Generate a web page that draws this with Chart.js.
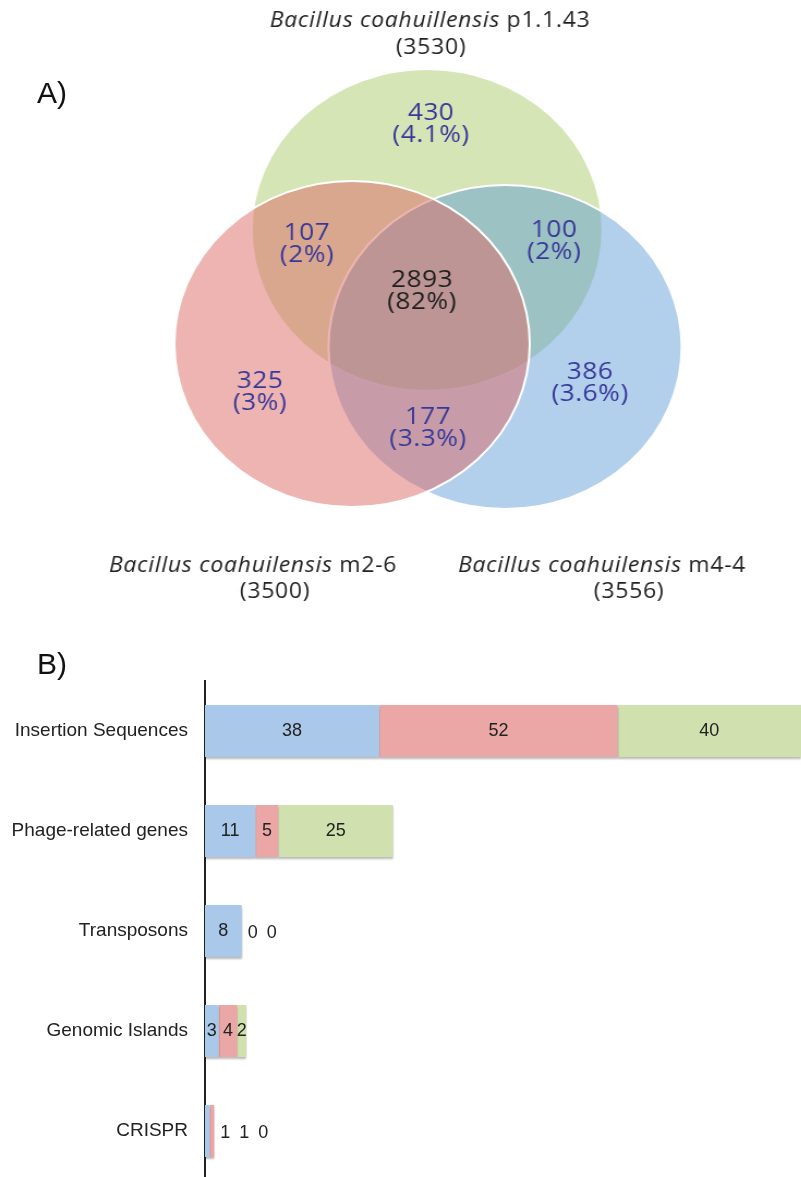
<!DOCTYPE html>
<html>
<head>
<meta charset="utf-8">
<script src="https://cdn.jsdelivr.net/npm/chart.js@4.4.1/dist/chart.umd.min.js"></script>
<style>
html,body{margin:0;padding:0;background:#fff;width:801px;height:1177px;overflow:hidden}
/* the figure is a little wider than tall, so the venn canvas is stretched sideways */
#vennBox{position:absolute;left:0;top:0;width:735px;height:620px;transform:scaleX(1.09);transform-origin:0 0}
#barBox{position:absolute;left:0;top:640px;width:801px;height:541px}
.panel{position:absolute;left:37px;font:30px "Liberation Sans",Arial,sans-serif;color:#111}
</style>
</head>
<body>
<div id="vennBox"><canvas id="vennChart"></canvas></div>
<div id="barBox"><canvas id="barChart"></canvas></div>
<div class="panel" style="top:76px">A)</div>
<div class="panel" style="top:647px">B)</div>
<script>
// --- Venn data (A) ---
const strains = ['p1.1.43','m2-6','m4-4']
const strainNames = ['Bacillus coahuillensis','Bacillus coahuilensis','Bacillus coahuilensis']
const strainTotals = [3530,3500,3556]
// p only, p&m2, p&m4, all, m2 only, m2&m4, m4 only
const regionCounts = [430,107,100,2893,325,177,386]
const regionPercents = ['4.1%','2%','2%','82%','3%','3.3%','3.6%']

// --- Bar data (B) ---
const categories = ['Insertion Sequences','Phage-related genes','Transposons','Genomic Islands','CRISPR']
const m44 = [38,11,8,3,1]
const m26 = [52,5,0,4,1]
const p1143 = [40,25,0,2,0]

// venn layout (scale units), drawn green, blue, red
const circles = [{x:427,y:230,r:161},{x:505,y:347,r:162},{x:352,y:344,r:163}]
const circleColors = ['rgba(173,203,107,0.5)','rgba(91,155,215,0.47)','rgba(221,105,101,0.5)']
const regionSpots = [[431,124],[307,244],[554,241],[422,291],[260,392],[428,428],[590,383]]
const strainSpots = [[430,21,431,48],[253,566,275,592],[602,566,629,592]]

const vennText = {
  id:'vennText',
  afterDatasetsDraw(chart){
    const {ctx, scales:{x,y}} = chart
    ctx.save()
    ctx.textAlign = 'center'
    ctx.textBaseline = 'middle'
    ctx.font = '24px "Open Sans"'
    ctx.letterSpacing = '0.5px'
    regionCounts.forEach((n,i)=>{
      const px = x.getPixelForValue(regionSpots[i][0])
      const py = y.getPixelForValue(regionSpots[i][1])
      ctx.fillStyle = i===3 ? '#1e1e1e' : '#38389a'
      ctx.fillText(n, px, py-11)
      ctx.fillText('('+regionPercents[i]+')', px, py+11)
    })
    ctx.fillStyle = '#222'
    ctx.letterSpacing = '0.7px'
    strains.forEach((s,i)=>{
      const sp = strainSpots[i]
      ctx.font = 'italic 21px "Open Sans"'
      const a = strainNames[i]+' '
      const wa = ctx.measureText(a).width
      ctx.font = '21px "Open Sans"'
      const wb = ctx.measureText(s).width
      const left = x.getPixelForValue(sp[0]) - (wa+wb)/2
      const py = y.getPixelForValue(sp[1])
      ctx.textAlign = 'left'
      ctx.font = 'italic 21px "Open Sans"'
      ctx.fillText(a, left, py)
      ctx.font = '21px "Open Sans"'
      ctx.fillText(s, left+wa, py)
      ctx.textAlign = 'center'
      ctx.fillText('('+strainTotals[i]+')', x.getPixelForValue(sp[2]), y.getPixelForValue(sp[3]))
    })
    ctx.restore()
  }
}

new Chart(document.getElementById('vennChart'),{
  type:'bubble',
  data:{
    datasets:[{
      data:circles,
      backgroundColor:circleColors,
      borderColor:'#fff',
      borderWidth:2
    }]
  },
  options:{
    responsive:true,
    maintainAspectRatio:false,
    animation:false,
    events:[],
    layout:{padding:0,autoPadding:false},
    plugins:{legend:{display:false},tooltip:{enabled:false}},
    scales:{
      x:{display:false,min:0,max:801},
      y:{display:false,min:0,max:620,reverse:true}
    }
  },
  plugins:[vennText]
})

const barLabels = {
  id:'barLabels',
  beforeDatasetsDraw(chart){
    const {ctx} = chart
    ctx.save()
    ctx.shadowColor = 'rgba(0,0,0,0.28)'
    ctx.shadowOffsetY = 2
    ctx.shadowBlur = 2
  },
  afterDatasetsDraw(chart){
    const {ctx} = chart
    ctx.restore()
    ctx.save()
    ctx.font = '18px "Liberation Sans", Arial, sans-serif'
    ctx.fillStyle = '#222'
    ctx.textAlign = 'center'
    ctx.textBaseline = 'middle'
    categories.forEach((c,i)=>{
      let outside = [], end = 0, yc = 0
      chart.data.datasets.forEach((ds,d)=>{
        const bar = chart.getDatasetMeta(d).data[i]
        end = Math.max(end, bar.x)
        yc = bar.y
        if (bar.x - bar.base >= 8) ctx.fillText(ds.data[i], (bar.x+bar.base)/2, bar.y)
        else outside.push(ds.data[i])
      })
      outside.forEach((v,k)=> ctx.fillText(v, end+11+k*19, yc+2))
    })
    ctx.restore()
  }
}

new Chart(document.getElementById('barChart'),{
  type:'bar',
  data:{
    labels:categories,
    datasets:[
      {label:'m4-4',data:m44,backgroundColor:'#a9c8ea'},
      {label:'m2-6',data:m26,backgroundColor:'#eba7a6'},
      {label:'p1.1.43',data:p1143,backgroundColor:'#d0e1af'}
    ]
  },
  options:{
    indexAxis:'y',
    responsive:true,
    maintainAspectRatio:false,
    animation:false,
    events:[],
    layout:{padding:{top:41,right:0,bottom:0,left:0}},
    plugins:{legend:{display:false},tooltip:{enabled:false}},
    datasets:{bar:{barPercentage:1,categoryPercentage:0.52,borderWidth:0}},
    scales:{
      x:{stacked:true,min:0,max:130,display:false},
      y:{
        stacked:true,
        grid:{display:false,drawTicks:false},
        border:{display:true,color:'#222',width:2},
        ticks:{color:'#222',font:{family:'"Liberation Sans", Arial, sans-serif',size:19},padding:17},
        afterFit(s){ s.width = 205; s.paddingTop = 0; s.paddingBottom = 0 }
      }
    }
  },
  plugins:[barLabels]
})
</script>
</body>
</html>
